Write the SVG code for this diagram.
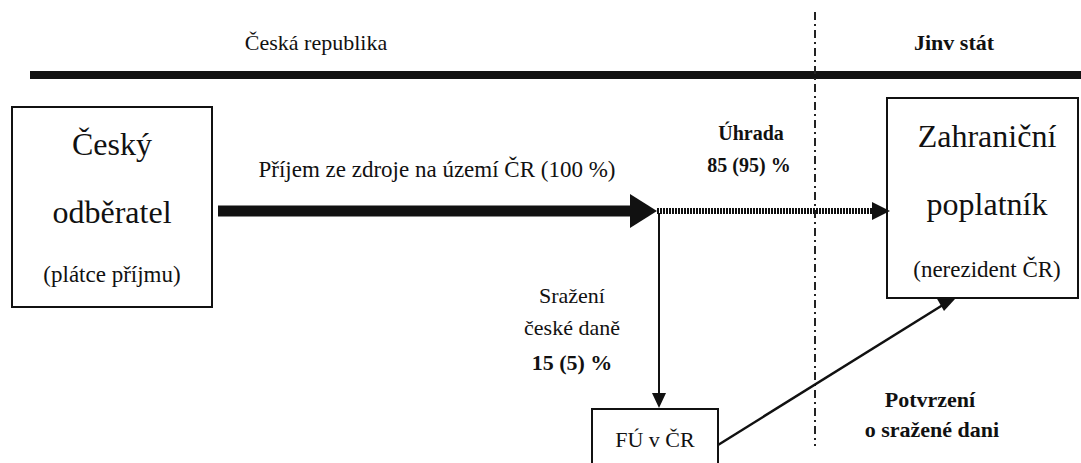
<svg xmlns="http://www.w3.org/2000/svg" width="1081" height="463" viewBox="0 0 1081 463" font-family="Liberation Serif, Tinos, Times New Roman, DejaVu Serif, serif">
<defs>
<style>
text{fill:#111;text-anchor:middle}
.big{font-size:32px}
.mid{font-size:22px}
.sm{font-size:23px}
.b{font-weight:bold;font-size:20px}
.b2{font-weight:bold;font-size:22px}
.box{fill:#fff;stroke:#111;stroke-width:2}
</style>
</defs>
<g id="frame">
<text class="mid" x="316" y="50">Česká republika</text>
<text class="b2" x="954" y="50">Jinv stát</text>
<line x1="30" y1="75" x2="1081" y2="75" stroke="#111" stroke-width="8"/>
<line x1="815" y1="12" x2="815" y2="446" stroke="#222" stroke-width="2" stroke-dasharray="8,4,2,4"/>
</g>
<g id="cesky-odberatel">
<rect class="box" x="12" y="107" width="200" height="200"/>
<text class="big" x="112" y="155">Český</text>
<text class="big" x="112" y="223">odběratel</text>
<text class="sm" x="112" y="282">(plátce příjmu)</text>
</g>
<g id="zahranicni-poplatnik">
<rect class="box" x="887" y="98" width="191" height="200"/>
<text class="big" x="987" y="147">Zahraniční</text>
<text class="big" x="987" y="215">poplatník</text>
<text class="sm" x="987" y="277">(nerezident ČR)</text>
</g>
<g id="fu-v-cr">
<rect class="box" x="592" y="409" width="126" height="70"/>
<text class="mid" x="655" y="447">FÚ v ČR</text>
</g>
<g id="connectors">
<line x1="218" y1="211" x2="632" y2="211" stroke="#111" stroke-width="11"/>
<path d="M630,194L657,211L630,228Z" fill="#111"/>
<line x1="657" y1="211" x2="876" y2="211" stroke="#111" stroke-width="6" stroke-dasharray="2,1"/>
<path d="M872,202L890,211L872,220Z" fill="#111"/>
<line x1="659" y1="213" x2="659" y2="394" stroke="#111" stroke-width="2"/>
<path d="M652,393L659,408L666,393Z" fill="#111"/>
<line x1="718" y1="445" x2="946" y2="303" stroke="#111" stroke-width="2.5"/>
<path d="M936,297L955,299L944,311Z" fill="#111"/>
</g>
<g id="labels">
<text class="sm" x="437" y="177">Příjem ze zdroje na území ČR (100 %)</text>
<text class="b" x="751" y="140">Úhrada</text>
<text class="b" x="749" y="172">85 (95) %</text>
<text class="mid" x="572" y="303">Sražení</text>
<text class="mid" x="572" y="335">české daně</text>
<text class="b2" x="572" y="370">15 (5) %</text>
<text class="b2" x="930" y="407">Potvrzení</text>
<text class="b2" x="932" y="437">o sražené dani</text>
</g>
</svg>
